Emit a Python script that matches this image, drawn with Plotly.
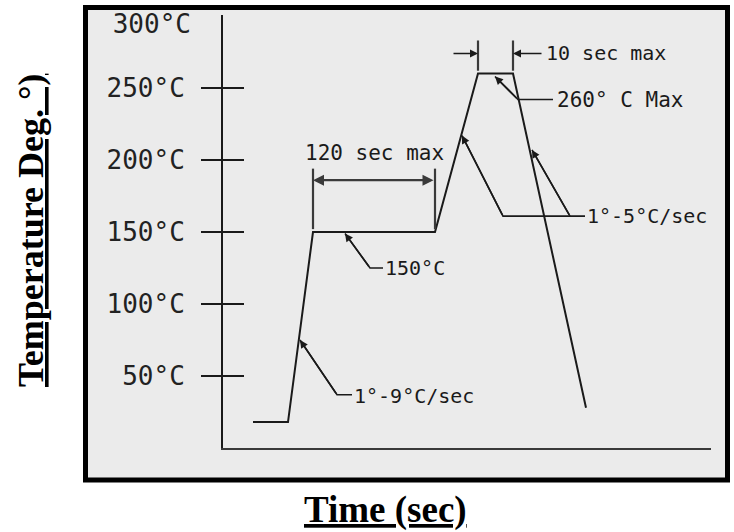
import plotly.graph_objects as go

# ---- data (schematic reflow profile) ----
time_s = [30, 65, 90, 212, 255, 290, 363]
temp_c = [18, 18, 150, 150, 260, 260, 28]

ytick_vals = [50, 100, 150, 200, 250]
ytick_text = ["50°C", "100°C", "150°C", "200°C", "250°C"]
ytop_val = [300]
ytop_text = ["300°C"]
tickmark_vals = [50, 100, 150, 200, 250]

soak_label = "120 sec max"
peak_time_label = "10 sec max"
peak_label = "260° C Max"
ramp_label = "1°-5°C/sec"
soak_temp_label = "150°C"
preheat_label = "1°-9°C/sec"

x_title = "Time (sec)"
y_title = "Temperature Deg. °)"

# ---- layout constants ----
W, H = 734, 532
ML, MR, MT, MB = 223, 23, 15, 84
PW, PH = W - ML - MR, H - MT - MB
PX_PER_DEG = 1.44
X_RANGE = [0, PW]
Y_RANGE = [0, PH / PX_PER_DEG]

INK = "#1a1a1a"
DIM = "#3a3a3a"
BG = "#ebebeb"
MONO = "DejaVu Sans Mono"
SERIF = "Liberation Serif"


def px2paper_x(px):
    return (px - ML) / PW


def px2paper_y(py):
    return (H - MB - py) / PH


fig = go.Figure()

# profile curve
fig.add_trace(go.Scatter(x=time_s, y=temp_c, mode="lines",
                         line=dict(color=INK, width=2), hoverinfo="skip",
                         showlegend=False))

# leader / dimension lines (callout geometry)
leaders = [
    [(272, 258), (295, 242), (330, 242)],          # 260 C max
    [(239, 217), (280, 161), (362, 161)],          # ramp up
    [(309, 207), (347, 161)],                      # ramp down
    [(122, 149), (147, 125), (160, 125)],          # 150 C
    [(77, 75), (114, 37), (129, 37)],              # preheat
]
ext_lines = [
    [(90, 152), (90, 194)],
    [(212, 152), (212, 194)],
    [(255, 262), (255, 283)],
    [(290, 262), (290, 283)],
]


def poly_trace(paths, color, width):
    xs, ys = [], []
    for p in paths:
        for (a, b) in p:
            xs.append(a)
            ys.append(b)
        xs.append(None)
        ys.append(None)
    return go.Scatter(x=xs, y=ys, mode="lines", line=dict(color=color, width=width),
                      hoverinfo="skip", showlegend=False)


fig.add_trace(poly_trace(leaders, INK, 1.6))
fig.add_trace(poly_trace(ext_lines, DIM, 2.2))

# empty traces on overlaid axes so their ticks render
for ax_name in ("y2", "y3", "y4"):
    fig.add_trace(go.Scatter(x=[None], y=[None], yaxis=ax_name, showlegend=False,
                             hoverinfo="skip"))

annotations = []


def arrow(tip, tail, both=False, color=INK, width=1.6):
    d = dict(x=tip[0], y=tip[1], ax=tail[0], ay=tail[1], xref="x", yref="y",
             axref="x", ayref="y", text="", showarrow=True, arrowhead=2,
             arrowsize=1.0, arrowwidth=width, arrowcolor=color)
    if both:
        d.update(arrowside="end+start", startarrowhead=2, startarrowsize=1.0)
    annotations.append(d)


arrow((272, 258), (295, 242))
arrow((239, 217), (280, 161))
arrow((309, 207), (347, 161))
arrow((122, 149), (147, 125))
arrow((77, 75), (114, 37))
arrow((255, 274), (229, 274))
arrow((290, 274), (320, 274))
arrow((90, 186), (212, 186), both=True, color=DIM, width=2.2)


def label(text, x, y, anchor="left", size=20):
    annotations.append(dict(x=x, y=y, xref="x", yref="y", text=text, showarrow=False,
                            xanchor=anchor, yanchor="middle",
                            font=dict(family=MONO, size=size, color=INK)))


label(soak_label, 151, 205, "center", 21)
label(peak_time_label, 321, 274)
label(peak_label, 332, 242, size=21)
label(ramp_label, 362, 161)
label(soak_temp_label, 160, 125)
label(preheat_label, 129, 36)

# axis titles
annotations.append(dict(xref="paper", yref="paper", x=px2paper_x(31), y=px2paper_y(231),
                        text="<b><u>" + y_title + "</u></b>", textangle=-90,
                        showarrow=False, xanchor="center", yanchor="middle",
                        font=dict(family=SERIF, size=36, color="#000")))
annotations.append(dict(xref="paper", yref="paper", x=px2paper_x(385), y=px2paper_y(510),
                        text="<b><u>" + x_title + "</u></b>",
                        showarrow=False, xanchor="center", yanchor="middle",
                        font=dict(family=SERIF, size=37, color="#000")))

frame = dict(type="rect", xref="paper", yref="paper", layer="below",
             x0=px2paper_x(85.5), x1=px2paper_x(727.5),
             y0=px2paper_y(480), y1=px2paper_y(7.5),
             line=dict(color="#000", width=5), fillcolor=BG)

common = dict(range=Y_RANGE, anchor="x", side="left", tickmode="array",
              showgrid=False, zeroline=False, fixedrange=True, automargin=False)

tick_axis_common = dict(overlaying="y", tickvals=tickmark_vals, ticklen=21,
                        tickwidth=2, tickcolor=INK, showticklabels=False,
                        showline=False, **common)

label_font = dict(family=MONO, size=26, color="#222")

fig.update_layout(
    width=W, height=H,
    margin=dict(l=ML, r=MR, t=MT, b=MB, pad=0, autoexpand=False),
    paper_bgcolor="white", plot_bgcolor=BG,
    showlegend=False,
    xaxis=dict(range=X_RANGE, showline=True, linecolor=DIM, linewidth=2,
               showticklabels=False, ticks="", showgrid=False, zeroline=False,
               fixedrange=True, automargin=False),
    yaxis=dict(tickvals=ytick_vals, ticktext=ytick_text,
               ticks="", showline=True, linecolor=INK, linewidth=2,
               ticklabelstandoff=31, tickfont=label_font, **common),
    yaxis2=dict(ticks="outside", **tick_axis_common),
    yaxis3=dict(ticks="inside", **tick_axis_common),
    yaxis4=dict(overlaying="y", tickvals=ytop_val, ticktext=ytop_text, ticks="",
                showline=False, showticklabels=True, ticklabelstandoff=31,
                ticklabelshift=8, ticklabeloverflow="allow",
                tickfont=label_font, **common),
    shapes=[frame],
    annotations=annotations,
)

fig.write_html("out.html", config={"displayModeBar": False},
               post_script="document.body.style.margin='0';document.body.style.padding='0';")
